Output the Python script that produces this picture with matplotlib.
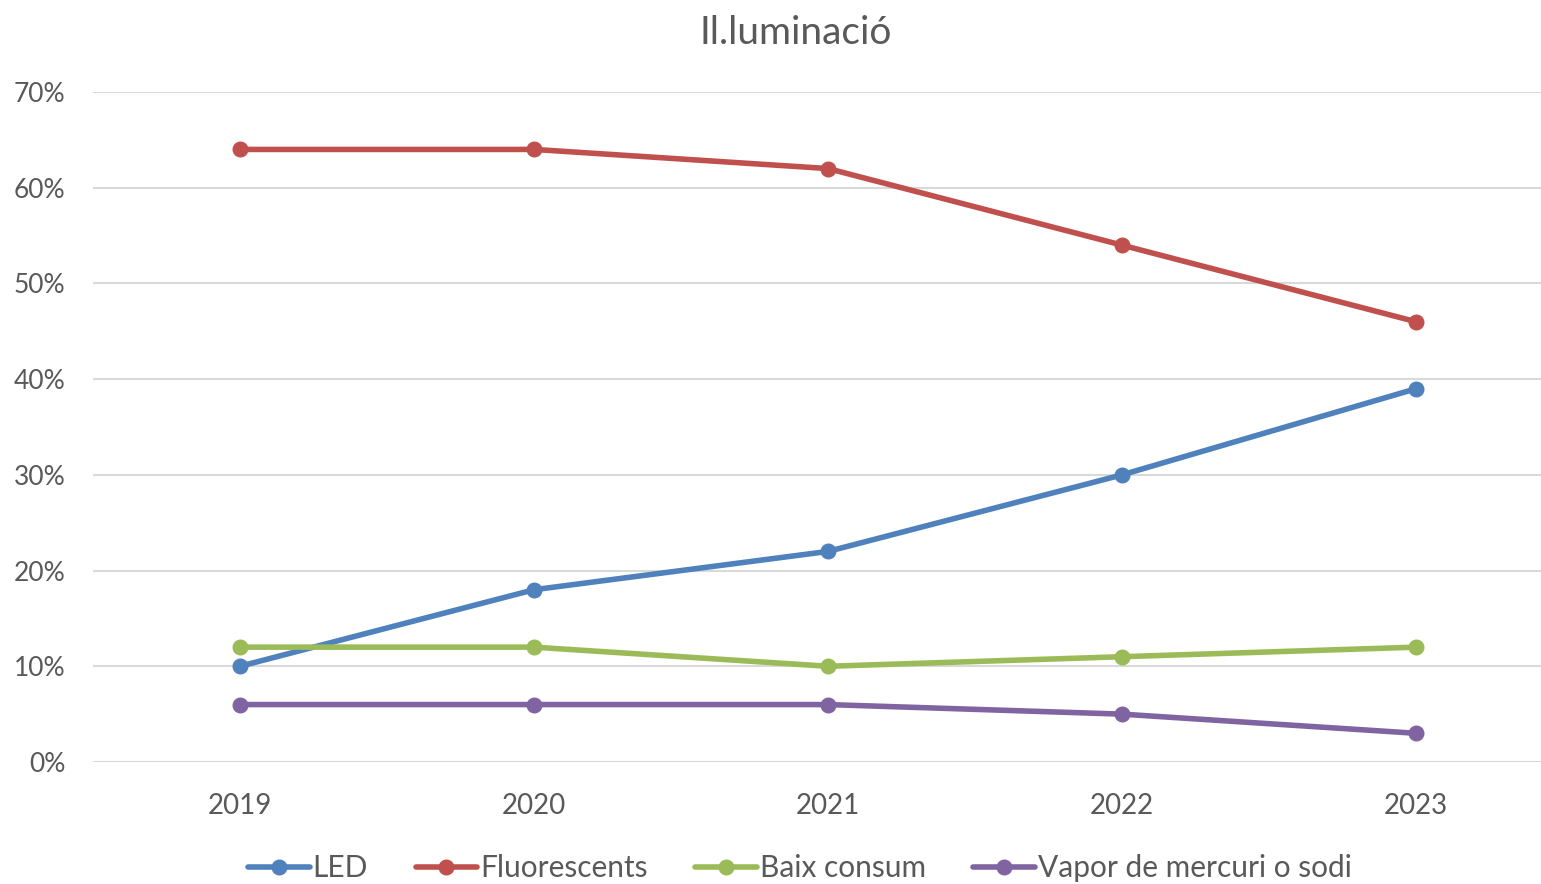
import numpy as np
import matplotlib.pyplot as plt
from matplotlib.ticker import PercentFormatter

years = ['2019', '2020', '2021', '2022', '2023']
led = [0.10, 0.18, 0.22, 0.30, 0.39]
fluorescents = [0.64, 0.64, 0.62, 0.54, 0.46]
baix_consum = [0.12, 0.12, 0.10, 0.11, 0.12]
vapor = [0.06, 0.06, 0.06, 0.05, 0.03]

series = [
    ('LED', led, '#4F81BD'),
    ('Fluorescents', fluorescents, '#C0504D'),
    ('Baix consum', baix_consum, '#9BBB59'),
    ('Vapor de mercuri o sodi', vapor, '#8064A2'),
]

plt.rcParams['font.family'] = ['Lato', 'DejaVu Sans']
grey = '#595959'

fig = plt.figure(figsize=(15.41, 8.84), dpi=100)
ax = fig.add_axes([93 / 1541, 1 - 762 / 884, 1 - 93 / 1541, (762 - 92) / 884])

x = np.arange(len(years))
for name, vals, col in series:
    ax.plot(x, vals, color=col, lw=4, marker='o', ms=10.5, label=name,
            solid_capstyle='round')

ax.set_xlim(-0.5, 4.425)
ax.set_ylim(0, 0.7)
ax.set_yticks(np.arange(0, 0.71, 0.1))
ax.yaxis.set_major_formatter(PercentFormatter(1.0, decimals=0))
ax.set_xticks(x)
ax.set_xticklabels(years)
ax.grid(axis='y', color='#D9D9D9', lw=1.5)
ax.set_axisbelow(True)
for s in ax.spines.values():
    s.set_visible(False)
ax.tick_params(length=0, labelsize=20, colors=grey)
ax.tick_params(axis='y', labelsize=19, pad=20)
ax.tick_params(axis='x', pad=22)

fig.text(796 / 1541, 1 - 33 / 884, 'Il.luminació', ha='center', va='center',
         fontsize=28, color=grey)

fig.legend(loc='center', bbox_to_anchor=(800 / 1541, 1 - 868 / 884), ncol=4,
           frameon=False, fontsize=21.5, labelcolor=grey, handlelength=2.05,
           handletextpad=0.1, columnspacing=1.6)

fig.savefig('out.png', dpi=100)
